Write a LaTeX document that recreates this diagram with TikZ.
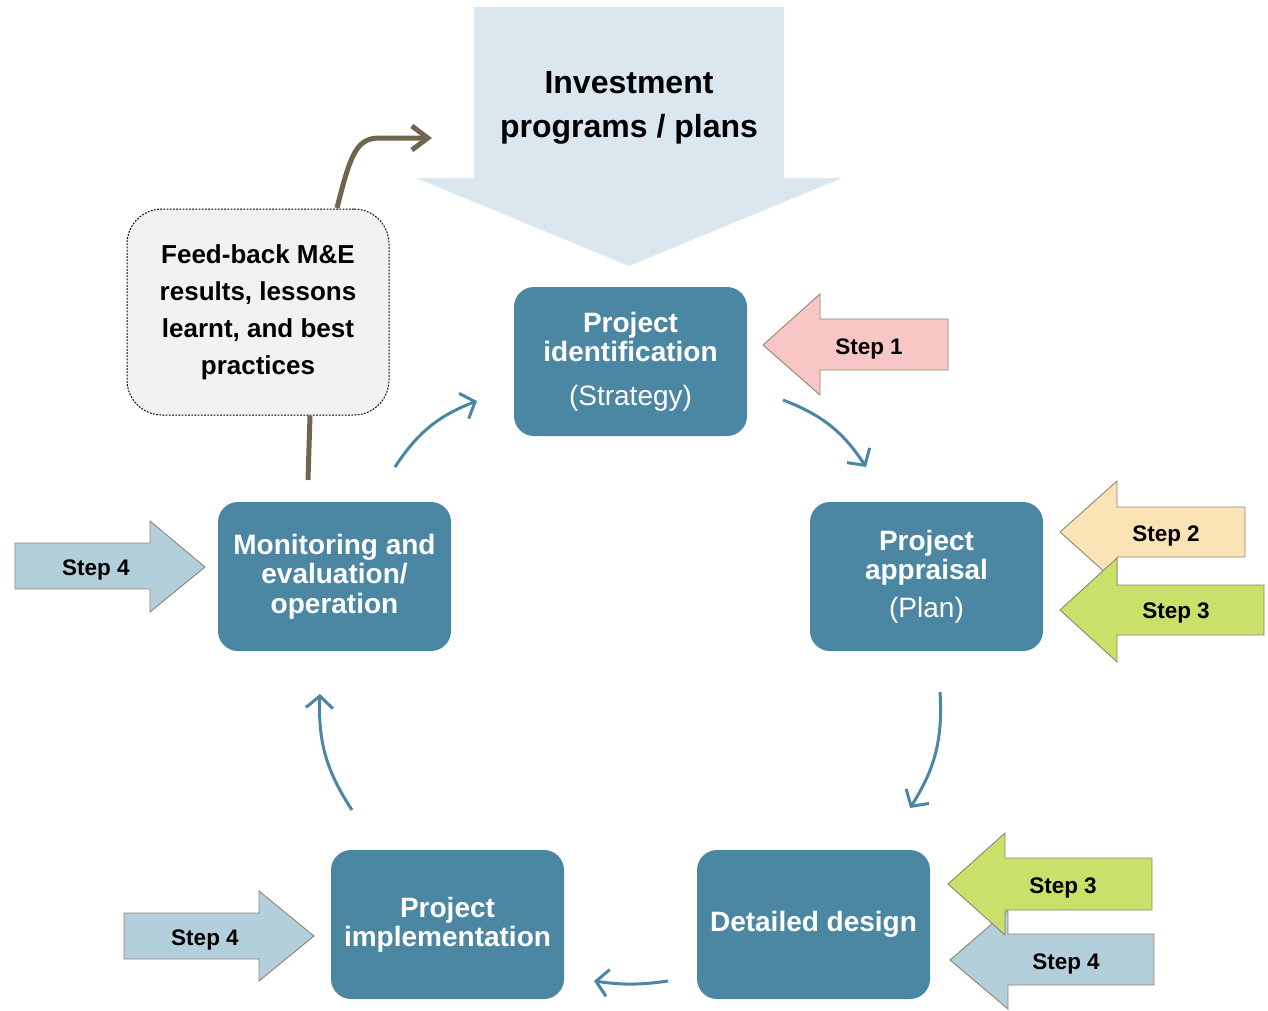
\documentclass[tikz,border=0pt]{standalone}
\usepackage{fontspec}
\setmainfont{Liberation Sans}
\usetikzlibrary{arrows.meta}
\definecolor{stagec}{HTML}{4B86A2}
\definecolor{investc}{HTML}{DAE7EE}
\definecolor{feedc}{HTML}{706551}
\definecolor{feedbgc}{HTML}{F2F2F2}
\definecolor{outlinec}{HTML}{8E8575}
\definecolor{steponec}{HTML}{F8C7C5}
\definecolor{steptwoc}{HTML}{FAE4B6}
\definecolor{stepthreec}{HTML}{C9E06A}
\definecolor{stepfourc}{HTML}{B3CFDB}

\tikzset{
  stagebox/.style={fill=stagec, rounded corners=20pt, minimum width=233pt, minimum height=149pt,
    text=white, align=center, font=\fontsize{28}{29.5}\selectfont\bfseries},
  steparrow/.style={draw=outlinec, line width=0.9pt},
  steplabel/.style={text=black, yshift=-3pt, font=\fontsize{22.5}{27}\selectfont\bfseries},
  cyclearrow/.style={draw=stagec, line width=3pt, -{Straight Barb[length=12pt,width=27pt]}},
  feedline/.style={draw=feedc, line width=5pt}
}

\begin{document}
\begin{tikzpicture}[x=1pt, y=-1pt]
\useasboundingbox (0,0) rectangle (1268,1010);

% big arrow coming down into the cycle
\fill[investc] (474,7) -- (784,7) -- (784,178) -- (842,178) -- (629,266) -- (416,178) -- (474,178) -- cycle;
\node[align=center, font=\fontsize{32}{44}\selectfont\bfseries] (invest) at (629,108)
{Investment\\programs / plans};

% the five stages
\node[stagebox] (ident) at (630.5,361.5) {Project\\identification\\[14pt]{\mdseries (Strategy)}};
\node[stagebox] (apprais) at (926.5,576.5) {Project\\appraisal\\[8pt]{\mdseries (Plan)}};
\node[stagebox] (design) at (813.5,924.5) {Detailed design};
\node[stagebox] (implem) at (447.5,924.5) {Project\\implementation};
\node[stagebox] (monit) at (334.5,576.5) {Monitoring and\\evaluation/\\operation};

% feed-back box
\node[draw=black, line width=1pt, dash pattern=on 1.8pt off 1.4pt, fill=feedbgc, rounded corners=35pt,
  minimum width=262pt, minimum height=206pt, align=center, font=\fontsize{26}{37}\selectfont\bfseries]
(feed) at (258,312) {Feed-back M\&E\\results, lessons\\learnt, and best\\practices};

\coordinate (fb1) at (308,480);
\coordinate (fb2) at (337,208);
\coordinate (fb3) at (432,138);
\draw[feedline] (fb1) -- (feed.south -| 310,0);
\draw[feedline, -{Straight Barb[length=16pt,width=24pt]}] (fb2) .. controls (351,152) and (357,138) .. (380,138) -- (fb3);

% arrows round the cycle
\coordinate (a1s) at (395,467); \coordinate (a1e) at (477,401);
\coordinate (a2s) at (783,400); \coordinate (a2e) at (866,467);
\coordinate (a3s) at (940,692); \coordinate (a3e) at (910,808);
\coordinate (a4s) at (668,981); \coordinate (a4e) at (594,981);
\coordinate (a5s) at (352,810); \coordinate (a5e) at (320,694);
\draw[cyclearrow] (a1s) to[bend left=18] (a1e);
\draw[cyclearrow] (a2s) to[bend left=18] (a2e);
\draw[cyclearrow] (a3s) to[bend left=18] (a3e);
\draw[cyclearrow] (a4s) to[bend left=8] (a4e);
\draw[cyclearrow] (a5s) to[bend left=18] (a5e);

% step arrows
\filldraw[steparrow, fill=steponec] (763,345) -- ++(57,-51) -- ++(0,25) -- ++(128,0) -- ++(0,51) -- ++(-128,0) -- ++(0,25) -- cycle;
\node[steplabel] (step1) at (869,346) {Step 1};

\filldraw[steparrow, fill=steptwoc] (1060,532) -- ++(57,-51) -- ++(0,26) -- ++(128,0) -- ++(0,50) -- ++(-128,0) -- ++(0,26) -- cycle;
\node[steplabel] (step2) at (1166,533) {Step 2};
\filldraw[steparrow, fill=stepthreec] (1060,610) -- ++(57,-52) -- ++(0,27) -- ++(147,0) -- ++(0,50) -- ++(-147,0) -- ++(0,27) -- cycle;
\node[steplabel] (step3a) at (1176,610) {Step 3};

\filldraw[steparrow, fill=stepfourc] (950,960) -- ++(58,-50) -- ++(0,24) -- ++(146,0) -- ++(0,51) -- ++(-146,0) -- ++(0,24) -- cycle;
\node[steplabel] (step4a) at (1066,961) {Step 4};
\filldraw[steparrow, fill=stepthreec] (948,884) -- ++(57,-51) -- ++(0,25) -- ++(147,0) -- ++(0,52) -- ++(-147,0) -- ++(0,25) -- cycle;
\node[steplabel] (step3b) at (1063,885) {Step 3};

\filldraw[steparrow, fill=stepfourc] (205,567) -- ++(-55,-46) -- ++(0,22) -- ++(-135,0) -- ++(0,46) -- ++(135,0) -- ++(0,23) -- cycle;
\node[steplabel] (step4b) at (96,567) {Step 4};
\filldraw[steparrow, fill=stepfourc] (314,936) -- ++(-55,-45) -- ++(0,22) -- ++(-135,0) -- ++(0,46) -- ++(135,0) -- ++(0,22) -- cycle;
\node[steplabel] (step4c) at (205,937) {Step 4};

\end{tikzpicture}
\end{document}
